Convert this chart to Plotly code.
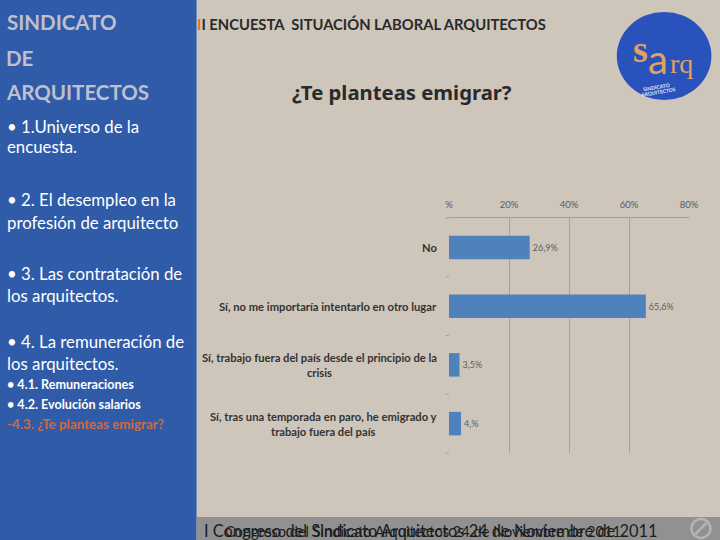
import plotly.graph_objects as go

categories = ["No", "Sí, no me importaría intentarlo en otro lugar",
              "Sí, trabajo fuera del país desde el principio de la<br>crisis",
              "Sí, tras una temporada en paro, he emigrado y<br>trabajo fuera del país"]
values = [26.9, 65.6, 3.5, 4.0]
value_labels = ["26,9%", "65,6%", "3,5%", "4,%"]
tick_vals = [0, 20, 40, 60, 80]
tick_text = ["%", "20%", "40%", "60%", "80%"]

W, H = 720, 540
L, R, T, B = 448.5, 689.5, 218, 453


def px(x):
    return (x - L) / (R - L)


def py(y):
    return (B - y) / (B - T)


fig = go.Figure(go.Bar(
    y=list(range(4)), x=values, orientation="h", width=0.4,
    marker=dict(color="#4F81BD", line=dict(width=0)),
    text=value_labels, textposition="outside", cliponaxis=False,
    textfont=dict(family="Lato", size=9, color="#5c5c5c"),
))

P = dict(xref="paper", yref="paper")
shapes = [
    dict(type="rect", x0=px(-6), x1=px(195), y0=py(-6), y1=py(546), fillcolor="#2F5BA8", line_width=0, layer="below", **P),
    dict(type="rect", x0=px(195), x1=px(726), y0=py(517), y1=py(546), fillcolor="#919191", line_width=0, layer="below", **P),
    dict(type="circle", x0=px(617), x1=px(712), y0=py(12), y1=py(100), fillcolor="#2A52BC", line_width=0, layer="below", **P),
    dict(type="circle", x0=px(692), x1=px(711), y0=py(519), y1=py(538), line=dict(color="#b4b4b4", width=2.5), **P),
    dict(type="line", x0=px(696), x1=px(707), y0=py(534), y1=py(523), line=dict(color="#b4b4b4", width=2.5), **P),
]
for yy in [276.75, 335.5, 394.25, 453]:
    shapes.append(dict(type="line", x0=px(445), x1=px(448.5), y0=py(yy), y1=py(yy), line=dict(color="#a8a298", width=1), **P))
shapes.append(dict(type="line", x0=px(445), x1=px(448.5), y0=py(218), y1=py(218), line=dict(color="#a09a90", width=1), **P))

ann = []


def txt(x, y, s, size, color="#ffffff", bold=False, anchor="left", family="Lato", angle=0):
    ann.append(dict(xref="paper", yref="paper", x=px(x), y=py(y), text=f"<b>{s}</b>" if bold else s,
                    showarrow=False, xanchor=anchor, yanchor="middle", align=anchor, textangle=angle,
                    font=dict(family=family, size=size, color=color)))


grey = "#C0C0CC"
txt(3, 22, "SINDICATO", 20.5, grey, True)
txt(2, 58, "DE", 20.5, grey, True)
txt(1.5, 92, "ARQUITECTOS", 20.5, grey, True)
white = "#ffffff"
for y, s in [(126, "• 1.Universo de la"), (147, "encuesta."),
             (200, "• 2. El desempleo en la"), (222, "profesión de arquitecto"),
             (273, "• 3. Las contratación de"), (295, "los arquitectos."),
             (341, "• 4. La remuneración de"), (363, "los arquitectos.")]:
    txt(3, y, s, 16.8, white)
txt(3, 384, "• 4.1. Remuneraciones", 12.6, white, True)
txt(3, 404, "• 4.2. Evolución salarios", 12.6, white, True)
txt(3, 424, "-4.3. ¿Te <b>planteas emigrar?</b>", 13.4, "#D2693C", True)

txt(193, 24, "<span style='color:#D9772B'>I</span>I ENCUESTA  SITUACIÓN LABORAL ARQUITECTOS", 14.75, "#2A2A2A", True)
txt(289, 92, "¿Te planteas emigrar?", 20.3, "#2A2A2A", True, family="Noto Sans")

txt(631, 49, "<b>s</b>", 38, "#DFA262", family="Liberation Serif")
txt(646, 59, "a", 40, "#DFA262", family="Lato")
txt(668, 63, "rq", 28, "#DFA262", family="Liberation Serif")
txt(641, 87, "SINDICATO", 5, "#E8E8F0", True, angle=-10)
txt(638, 92, "ARQUITECTOS", 5, "#E8E8F0", True, angle=-10)

txt(200, 530, "I Congreso del Sindicato Arquitectos 24 de Noviembre de 2011", 16.4, "#1d1d1d")
txt(222, 531, "Congreso del Sindicato Arquitectos 24 de Noviembre de 2011", 14.6, "#1d1d1d")

for i, c in enumerate(categories):
    ann.append(dict(xref="paper", yref="y", x=px(438), y=i, text=f"<b>{c}</b>", showarrow=False,
                    xanchor="right", yanchor="middle", align="center",
                    font=dict(family="Lato", size=11.2, color="#333333")))

fig.update_layout(
    width=W, height=H, autosize=False,
    margin=dict(l=L, r=W - R, t=T, b=H - B, autoexpand=False),
    paper_bgcolor="#CEC5BB", plot_bgcolor="rgba(0,0,0,0)",
    showlegend=False, shapes=shapes, annotations=ann,
    xaxis=dict(side="top", range=[0, 80], tickvals=tick_vals, ticktext=tick_text,
               showgrid=True, gridcolor="#a8a298", gridwidth=1, zeroline=False,
               showline=True, linecolor="#a09a90", linewidth=1, ticks="",
               ticklabelstandoff=5,
               tickfont=dict(family="Lato", size=9.5, color="#5c5c5c")),
    yaxis=dict(range=[3.5, -0.5], tickvals=[], showgrid=False, zeroline=False, showline=False),
)
fig.write_html("out.html", config=dict(displayModeBar=False),
               post_script="document.body.style.margin='0';document.body.style.overflow='hidden';")
